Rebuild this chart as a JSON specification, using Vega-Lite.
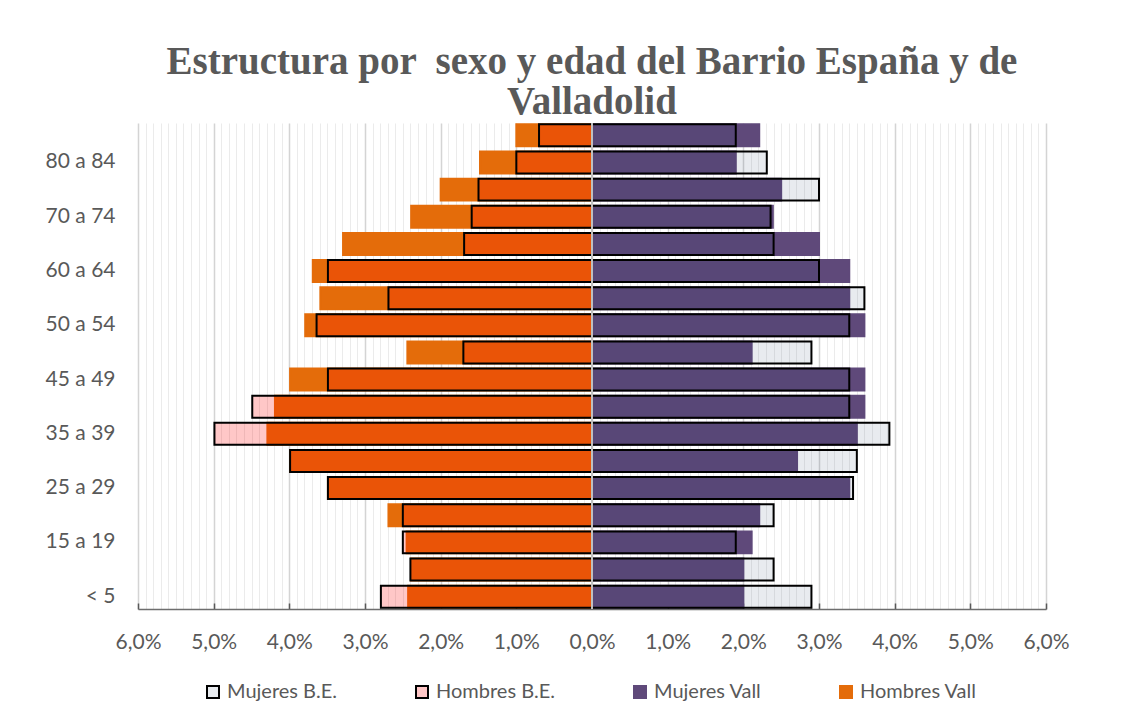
{
  "$schema": "https://vega.github.io/schema/vega-lite/v6.json",
  "width": 908,
  "height": 486,
  "autosize": {"type": "none"},
  "padding": {"left": 138, "top": 123, "right": 87, "bottom": 109},
  "background": "white",
  "config": {"view": {"stroke": null}, "font": "Lato"},
  "title": {
    "text": ["Estructura por \u00a0sexo y edad del Barrio España y de", "Valladolid"],
    "anchor": "middle",
    "font": "Liberation Serif",
    "fontSize": 39,
    "fontWeight": "bold",
    "color": "#595959",
    "lineHeight": 40,
    "offset": 0
  },
  "resolve": {"axis": {"x": "independent"}},
  "data": {
    "values": [
      {"edad": "< 5", "serie": "Hombres Vall", "valor": -2.43},
      {"edad": "5 a 14", "serie": "Hombres Vall", "valor": -2.39},
      {"edad": "15 a 19", "serie": "Hombres Vall", "valor": -2.45},
      {"edad": "20 a 24", "serie": "Hombres Vall", "valor": -2.69},
      {"edad": "25 a 29", "serie": "Hombres Vall", "valor": -3.49},
      {"edad": "30 a 34", "serie": "Hombres Vall", "valor": -3.99},
      {"edad": "35 a 39", "serie": "Hombres Vall", "valor": -4.29},
      {"edad": "40 a 44", "serie": "Hombres Vall", "valor": -4.19},
      {"edad": "45 a 49", "serie": "Hombres Vall", "valor": -3.99},
      {"edad": "40 a 49", "serie": "Hombres Vall", "valor": -2.44},
      {"edad": "50 a 54", "serie": "Hombres Vall", "valor": -3.79},
      {"edad": "55 a 59", "serie": "Hombres Vall", "valor": -3.59},
      {"edad": "60 a 64", "serie": "Hombres Vall", "valor": -3.69},
      {"edad": "65 a 69", "serie": "Hombres Vall", "valor": -3.29},
      {"edad": "70 a 74", "serie": "Hombres Vall", "valor": -2.39},
      {"edad": "75 a 79", "serie": "Hombres Vall", "valor": -2.0},
      {"edad": "80 a 84", "serie": "Hombres Vall", "valor": -1.48},
      {"edad": "85 y más", "serie": "Hombres Vall", "valor": -1.0},
      {"edad": "< 5", "serie": "Mujeres Vall", "valor": 2.0},
      {"edad": "5 a 14", "serie": "Mujeres Vall", "valor": 2.0},
      {"edad": "15 a 19", "serie": "Mujeres Vall", "valor": 2.11},
      {"edad": "20 a 24", "serie": "Mujeres Vall", "valor": 2.21},
      {"edad": "25 a 29", "serie": "Mujeres Vall", "valor": 3.4},
      {"edad": "30 a 34", "serie": "Mujeres Vall", "valor": 2.71},
      {"edad": "35 a 39", "serie": "Mujeres Vall", "valor": 3.5},
      {"edad": "40 a 44", "serie": "Mujeres Vall", "valor": 3.6},
      {"edad": "45 a 49", "serie": "Mujeres Vall", "valor": 3.6},
      {"edad": "40 a 49", "serie": "Mujeres Vall", "valor": 2.11},
      {"edad": "50 a 54", "serie": "Mujeres Vall", "valor": 3.6},
      {"edad": "55 a 59", "serie": "Mujeres Vall", "valor": 3.4},
      {"edad": "60 a 64", "serie": "Mujeres Vall", "valor": 3.4},
      {"edad": "65 a 69", "serie": "Mujeres Vall", "valor": 3.0},
      {"edad": "70 a 74", "serie": "Mujeres Vall", "valor": 2.39},
      {"edad": "75 a 79", "serie": "Mujeres Vall", "valor": 2.5},
      {"edad": "80 a 84", "serie": "Mujeres Vall", "valor": 1.9},
      {"edad": "85 y más", "serie": "Mujeres Vall", "valor": 2.21},
      {"edad": "< 5", "serie": "Hombres B.E.", "valor": -2.79},
      {"edad": "5 a 14", "serie": "Hombres B.E.", "valor": -2.4},
      {"edad": "15 a 19", "serie": "Hombres B.E.", "valor": -2.5},
      {"edad": "20 a 24", "serie": "Hombres B.E.", "valor": -2.5},
      {"edad": "25 a 29", "serie": "Hombres B.E.", "valor": -3.49},
      {"edad": "30 a 34", "serie": "Hombres B.E.", "valor": -3.99},
      {"edad": "35 a 39", "serie": "Hombres B.E.", "valor": -4.99},
      {"edad": "40 a 44", "serie": "Hombres B.E.", "valor": -4.49},
      {"edad": "45 a 49", "serie": "Hombres B.E.", "valor": -3.49},
      {"edad": "40 a 49", "serie": "Hombres B.E.", "valor": -1.7},
      {"edad": "50 a 54", "serie": "Hombres B.E.", "valor": -3.64},
      {"edad": "55 a 59", "serie": "Hombres B.E.", "valor": -2.69},
      {"edad": "60 a 64", "serie": "Hombres B.E.", "valor": -3.49},
      {"edad": "65 a 69", "serie": "Hombres B.E.", "valor": -1.69},
      {"edad": "70 a 74", "serie": "Hombres B.E.", "valor": -1.59},
      {"edad": "75 a 79", "serie": "Hombres B.E.", "valor": -1.5},
      {"edad": "80 a 84", "serie": "Hombres B.E.", "valor": -1.0},
      {"edad": "85 y más", "serie": "Hombres B.E.", "valor": -0.7},
      {"edad": "< 5", "serie": "Mujeres B.E.", "valor": 2.9},
      {"edad": "5 a 14", "serie": "Mujeres B.E.", "valor": 2.4},
      {"edad": "15 a 19", "serie": "Mujeres B.E.", "valor": 1.9},
      {"edad": "20 a 24", "serie": "Mujeres B.E.", "valor": 2.4},
      {"edad": "25 a 29", "serie": "Mujeres B.E.", "valor": 3.45},
      {"edad": "30 a 34", "serie": "Mujeres B.E.", "valor": 3.5},
      {"edad": "35 a 39", "serie": "Mujeres B.E.", "valor": 3.93},
      {"edad": "40 a 44", "serie": "Mujeres B.E.", "valor": 3.4},
      {"edad": "45 a 49", "serie": "Mujeres B.E.", "valor": 3.4},
      {"edad": "40 a 49", "serie": "Mujeres B.E.", "valor": 2.9},
      {"edad": "50 a 54", "serie": "Mujeres B.E.", "valor": 3.4},
      {"edad": "55 a 59", "serie": "Mujeres B.E.", "valor": 3.6},
      {"edad": "60 a 64", "serie": "Mujeres B.E.", "valor": 3.0},
      {"edad": "65 a 69", "serie": "Mujeres B.E.", "valor": 2.4},
      {"edad": "70 a 74", "serie": "Mujeres B.E.", "valor": 2.36},
      {"edad": "75 a 79", "serie": "Mujeres B.E.", "valor": 3.0},
      {"edad": "80 a 84", "serie": "Mujeres B.E.", "valor": 2.31},
      {"edad": "85 y más", "serie": "Mujeres B.E.", "valor": 1.9}
    ]
  },
  "layer": [
    {
      "mark": {"type": "bar"},
      "encoding": {
        "y": {
          "field": "edad",
          "type": "nominal",
          "sort": ["85 y más", "80 a 84", "75 a 79", "70 a 74", "65 a 69", "60 a 64", "55 a 59", "50 a 54", "40 a 49", "45 a 49", "40 a 44", "35 a 39", "30 a 34", "25 a 29", "20 a 24", "15 a 19", "5 a 14", "< 5"],
          "scale": {"paddingInner": 0.19, "paddingOuter": 0.05},
          "axis": {
            "values": ["< 5", "15 a 19", "25 a 29", "35 a 39", "45 a 49", "50 a 54", "60 a 64", "70 a 74", "80 a 84"],
            "title": null,
            "domain": false,
            "ticks": false,
            "grid": false,
            "labelFont": "Lato",
            "labelFontSize": 21,
            "labelColor": "#595959",
            "labelPadding": 23
          }
        },
        "x": {
          "field": "valor",
          "type": "quantitative",
          "stack": null,
          "scale": {"domain": [-6, 6], "nice": false},
          "axis": {
            "orient": "bottom",
            "title": null,
            "values": [-6, -5, -4, -3, -2, -1, 0, 1, 2, 3, 4, 5, 6],
            "labelExpr": "replace(format(abs(datum.value), '.1f'), '.', ',') + '%'",
            "labelOverlap": false,
            "labelFlush": false,
            "labelBound": false,
            "labelFont": "Lato",
            "labelFontSize": 21,
            "labelColor": "#595959",
            "labelPadding": 28,
            "grid": true,
            "gridColor": "#D4D4D4",
            "gridWidth": 1.5,
            "tickColor": "#595959",
            "tickSize": -6,
            "tickWidth": 1.5,
            "domainColor": "#6E6E6E",
            "domainWidth": 1.5
          }
        },
        "fill": {
          "field": "serie",
          "type": "nominal",
          "scale": {
            "domain": ["Mujeres B.E.", "Hombres B.E.", "Mujeres Vall", "Hombres Vall"],
            "range": ["rgba(31,56,100,0.1)", "rgba(255,0,0,0.22)", "#5F497A", "#E46C0A"]
          },
          "legend": {
            "title": null,
            "orient": "none",
            "legendX": 65,
            "legendY": 559,
            "direction": "horizontal",
            "symbolType": "square",
            "symbolSize": 144,
            "symbolStrokeWidth": 2,
            "labelFont": "Lato",
            "labelFontSize": 20,
            "labelColor": "#595959",
            "columnPadding": 74,
            "labelOffset": 4
          }
        },
        "stroke": {
          "field": "serie",
          "type": "nominal",
          "scale": {
            "domain": ["Mujeres B.E.", "Hombres B.E.", "Mujeres Vall", "Hombres Vall"],
            "range": ["#000000", "#000000", "#5F497A", "#E46C0A"]
          }
        },
        "strokeWidth": {
          "field": "serie",
          "type": "nominal",
          "scale": {
            "domain": ["Mujeres B.E.", "Hombres B.E.", "Mujeres Vall", "Hombres Vall"],
            "range": [2, 2, 0, 0]
          },
          "legend": null
        }
      }
    },
    {
      "mark": {"type": "rule", "color": "#BFBFBF", "strokeWidth": 2},
      "encoding": {
        "x": {
          "datum": 0,
          "type": "quantitative",
          "axis": {
            "orient": "bottom",
            "title": null,
            "values": [-5.9, -5.8, -5.7, -5.6, -5.5, -5.4, -5.3, -5.2, -5.1, -4.9, -4.8, -4.7, -4.6, -4.5, -4.4, -4.3, -4.2, -4.1, -3.9, -3.8, -3.7, -3.6, -3.5, -3.4, -3.3, -3.2, -3.1, -2.9, -2.8, -2.7, -2.6, -2.5, -2.4, -2.3, -2.2, -2.1, -1.9, -1.8, -1.7, -1.6, -1.5, -1.4, -1.3, -1.2, -1.1, -0.9, -0.8, -0.7, -0.6, -0.5, -0.4, -0.3, -0.2, -0.1, 0.1, 0.2, 0.3, 0.4, 0.5, 0.6, 0.7, 0.8, 0.9, 1.1, 1.2, 1.3, 1.4, 1.5, 1.6, 1.7, 1.8, 1.9, 2.1, 2.2, 2.3, 2.4, 2.5, 2.6, 2.7, 2.8, 2.9, 3.1, 3.2, 3.3, 3.4, 3.5, 3.6, 3.7, 3.8, 3.9, 4.1, 4.2, 4.3, 4.4, 4.5, 4.6, 4.7, 4.8, 4.9, 5.1, 5.2, 5.3, 5.4, 5.5, 5.6, 5.7, 5.8, 5.9],
            "labels": false,
            "ticks": false,
            "domain": false,
            "grid": true,
            "gridColor": "#EBEBEB",
            "gridWidth": 1
          }
        }
      }
    }
  ]
}
